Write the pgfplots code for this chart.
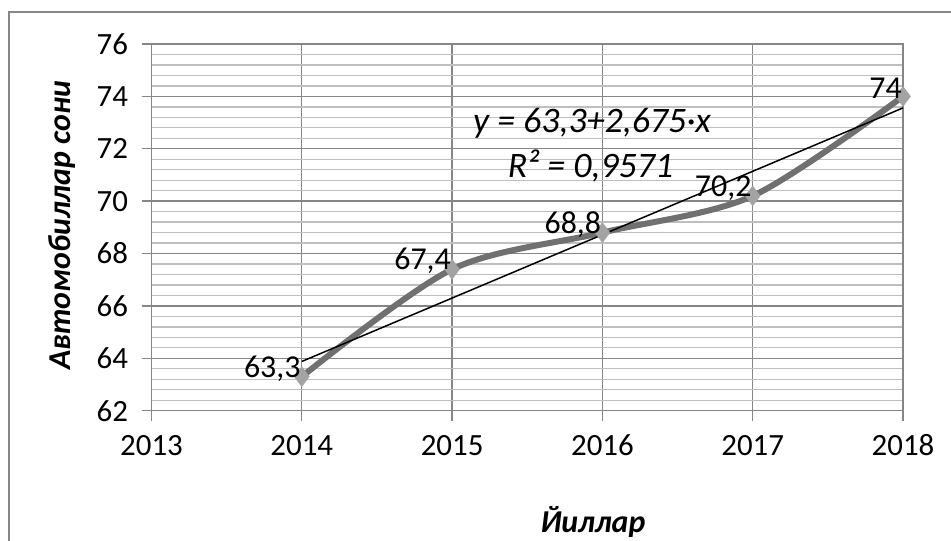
\documentclass[border=0pt]{standalone}
\usepackage{pgfplots}
\pgfplotsset{compat=1.18}
\usepackage{fontspec}
\setmainfont{Carlito}

\definecolor{gridmaj}{RGB}{134,134,134}
\definecolor{gridmin}{RGB}{191,191,191}
\definecolor{linegray}{RGB}{112,112,112}
\definecolor{markgray}{RGB}{163,163,163}

\pgfplotstableread{
x    y    lab
2014 63.3 63,3
2015 67.4 67,4
2016 68.8 68,8
2017 70.2 70,2
2018 74.0 74
}\cars

\begin{document}
\begin{tikzpicture}[x=1bp,y=1bp]
\useasboundingbox (-151.5,-130.3) rectangle (799.5,410.7);
% outer chart frame (right and bottom edges fall outside the picture)
\draw[gridmaj, line width=1.2bp] (-142.5,-200) rectangle (900,398.7);
\begin{axis}[
  width=751.5bp, height=366.7bp, scale only axis,
  xmin=2013, xmax=2018, ymin=62, ymax=76,
  xtick={2013,2014,2015,2016,2017,2018},
  ytick={62,64,66,68,70,72,74,76},
  minor y tick num=4,
  grid=both,
  major grid style={gridmaj, line width=1.3bp},
  minor grid style={gridmin, line width=1.3bp},
  axis line style={gridmaj, line width=1.3bp},
  tick align=outside, tick pos=left,
  major tick length=10bp, minor tick length=0pt,
  tick style={gridmaj, line width=1.3bp},
  /pgf/number format/assume math mode=true,
  /pgf/number format/set thousands separator={},
  ticklabel style={font=\fontsize{31}{37}\selectfont, text=black},
  y tick label style={xshift=-10bp},
  x tick label style={yshift=-11bp, text height=20bp, text depth=0bp},
  clip=false,
]
\addplot[only marks, mark=diamond*, mark size=10bp,
  mark options={draw=markgray, fill=markgray}] table[x=x, y=y] {\cars};
\addplot[linegray, line width=6bp, smooth, tension=0.5,
  point meta=explicit symbolic,
  nodes near coords,
  nodes near coords style={anchor=east, xshift=5bp, yshift=8bp,
    font=\fontsize{32}{38}\selectfont, text=black}]
  table[x=x, y=y, meta=lab] {\cars};
% linear trendline
\addplot[black, line width=1.5bp] coordinates {(2014,63.88) (2018,73.56)};
\end{axis}
\node[anchor=base, font=\itshape\fontsize{36}{43}\selectfont] at (440.5,277.7) {y = 63,3+2,675·x};
\node[anchor=base, font=\itshape\fontsize{36}{43}\selectfont] at (439,232.7) {R² = 0,9571};
\node[rotate=90, font=\bfseries\itshape\fontsize{32}{38}\selectfont] at (-89.5,185.7) {Автомобиллар сони};
\node[anchor=base, font=\bfseries\itshape\fontsize{32}{38}\selectfont] at (441.5,-121.5) {Йиллар};
\end{tikzpicture}
\end{document}
